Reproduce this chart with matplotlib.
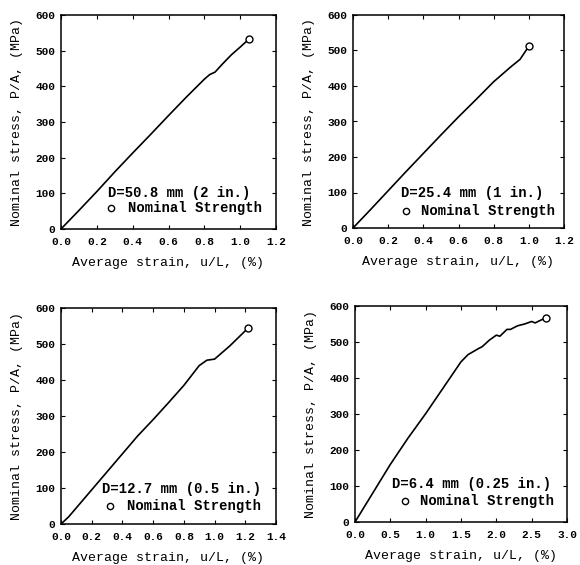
import matplotlib
matplotlib.use('Agg')
import matplotlib.pyplot as plt

plt.rcParams['font.family'] = ['Liberation Mono', 'DejaVu Sans Mono']
plt.rcParams['font.weight'] = 'bold'

# D = 50.8 mm
x1 = [0, 0.1, 0.2, 0.3, 0.4, 0.5, 0.6, 0.7, 0.8, 0.83, 0.86, 0.9, 0.95, 1.0, 1.05]
y1 = [0, 52, 105, 160, 213, 265, 318, 370, 420, 433, 440, 462, 488, 510, 533]
# D = 25.4 mm
x2 = [0, 0.1, 0.2, 0.3, 0.4, 0.5, 0.6, 0.7, 0.8, 0.9, 0.95, 1.0]
y2 = [0, 52, 105, 158, 210, 262, 313, 362, 412, 455, 475, 512]
# D = 12.7 mm
x3 = [0, 0.05, 0.1, 0.2, 0.3, 0.4, 0.5, 0.6, 0.7, 0.8, 0.9, 0.95, 1.0, 1.1, 1.22]
y3 = [0, 20, 45, 95, 145, 195, 245, 290, 337, 385, 440, 455, 458, 495, 545]
# D = 6.4 mm
x4 = [0, 0.25, 0.5, 0.75, 1.0, 1.25, 1.5, 1.6, 1.75, 1.8, 1.9, 2.0, 2.05, 2.15, 2.2, 2.3, 2.4, 2.5, 2.55, 2.6, 2.7]
y4 = [0, 80, 160, 233, 301, 373, 445, 465, 482, 487, 505, 519, 516, 535, 535, 545, 550, 557, 553, 558, 567]

labels = ['D=50.8 mm (2 in.)', 'D=25.4 mm (1 in.)', 'D=12.7 mm (0.5 in.)', 'D=6.4 mm (0.25 in.)']
xmax = [1.2, 1.2, 1.4, 3.0]
xstep = [0.2, 0.2, 0.2, 0.5]
xs = [x1, x2, x3, x4]
ys = [y1, y2, y3, y4]

W, H = 580, 565
# axes boxes in pixels: left, top, right, bottom
boxes = [(61, 15, 276, 229), (353, 15, 564, 228), (61, 308, 276, 524), (355, 306, 567, 522)]
# text positions (axes fraction): D text x, D text y, marker x, marker y, label x
tpos = [(0.22, 0.168, 0.233, 0.098, 0.31),
        (0.227, 0.164, 0.25, 0.08, 0.32),
        (0.19, 0.162, 0.228, 0.083, 0.307),
        (0.175, 0.176, 0.236, 0.097, 0.307)]

fig = plt.figure(figsize=(W / 100, H / 100), dpi=100)

for i in range(4):
    l, t, r, b = boxes[i]
    ax = fig.add_axes([l / W, 1 - b / H, (r - l) / W, (b - t) / H])
    ax.plot(xs[i], ys[i], color='black', lw=1.2)
    ax.plot(xs[i][-1], ys[i][-1], 'o', mfc='white', mec='black', ms=5, mew=1)
    ax.set_xlim(0, xmax[i])
    ax.set_ylim(0, 600)
    n = int(round(xmax[i] / xstep[i]))
    ticks = [k * xstep[i] for k in range(n + 1)]
    ax.set_xticks(ticks)
    ax.set_xticklabels(['%.1f' % v for v in ticks])
    ax.set_yticks(range(0, 601, 100))
    ax.tick_params(direction='in', top=True, right=True, length=3, width=0.8,
                   labelsize=8, pad=4)
    ax.tick_params(axis='x', pad=6)
    for s in ax.spines.values():
        s.set_linewidth(1.1)
    ax.set_xlabel('Average strain, u/L, (%)', fontsize=9.5, labelpad=7)
    ax.set_ylabel('Nominal stress, P/A, (MPa)', fontsize=9.5, labelpad=9)
    dx, dy, mx, my, lx = tpos[i]
    ax.text(dx, dy, labels[i], transform=ax.transAxes, fontsize=10, va='center', ha='left')
    ax.plot(mx, my, 'o', transform=ax.transAxes, mfc='white', mec='black', ms=4.5, mew=1)
    ax.text(lx, my, 'Nominal Strength', transform=ax.transAxes, fontsize=10, va='center', ha='left')

fig.savefig('out.png', dpi=100)
